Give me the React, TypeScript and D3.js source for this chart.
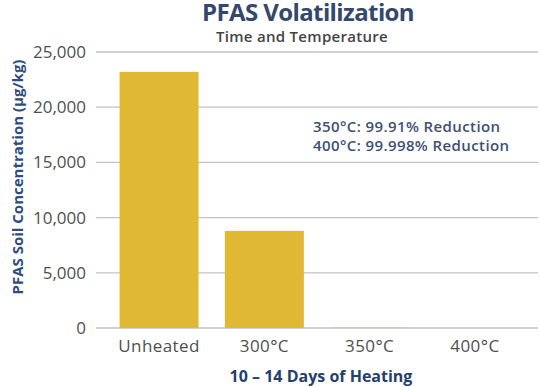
import React, { useEffect, useRef } from 'react';
import * as d3 from 'd3';

// Chart data
const categories = ['Unheated', '300°C', '350°C', '400°C'];
const concentrations = [23200, 8800, 21, 0.5];
const yTicks = [0, 5000, 10000, 15000, 20000, 25000];
const notes = ['350°C: 99.91% Reduction', '400°C: 99.998% Reduction'];

const App: React.FC = () => {
  const svgRef = useRef<SVGSVGElement | null>(null);

  useEffect(() => {
    if (!svgRef.current) return;
    const svg = d3.select(svgRef.current);
    svg.selectAll('*').remove();

    const width = 540;
    const height = 387;
    const margin = { top: 52, right: 2, bottom: 59, left: 96 };
    const font = '"Open Sans", "Noto Sans", sans-serif';
    const barColor = '#E1B834';
    const navy = '#34486E';

    svg.attr('width', width).attr('height', height);

    const x = d3.scaleBand<string>()
      .domain(categories)
      .range([margin.left, width - margin.right])
      .paddingInner(0.25)
      .paddingOuter(0.224);

    const y = d3.scaleLinear()
      .domain([0, 25000])
      .range([height - margin.bottom, margin.top]);

    // gridlines
    svg.append('g')
      .selectAll('line')
      .data(yTicks)
      .join('line')
      .attr('x1', margin.left)
      .attr('x2', width - margin.right)
      .attr('y1', d => y(d))
      .attr('y2', d => y(d))
      .attr('stroke', '#C2C2C2')
      .attr('stroke-width', 1.3);

    // y tick labels
    svg.append('g')
      .selectAll('text')
      .data(yTicks)
      .join('text')
      .attr('x', margin.left - 10)
      .attr('y', d => y(d))
      .attr('dy', '0.35em')
      .attr('text-anchor', 'end')
      .attr('font-family', font)
      .attr('font-size', 17)
      .attr('fill', '#4F4F4F')
      .text(d => d3.format(',')(d));

    // bars
    svg.append('g')
      .selectAll('rect')
      .data(categories)
      .join('rect')
      .attr('x', d => x(d) || 0)
      .attr('width', x.bandwidth())
      .attr('y', (_, i) => y(concentrations[i]))
      .attr('height', (_, i) => y(0) - y(concentrations[i]))
      .attr('fill', barColor);

    // x tick labels
    svg.append('g')
      .selectAll('text')
      .data(categories)
      .join('text')
      .attr('x', d => (x(d) || 0) + x.bandwidth() / 2)
      .attr('y', y(0) + 24)
      .attr('text-anchor', 'middle')
      .attr('font-family', font)
      .attr('font-size', 17)
      .attr('letter-spacing', 0.4)
      .attr('fill', '#4F4F4F')
      .text(d => d);

    // titles
    svg.append('text')
      .attr('x', 308)
      .attr('y', 21)
      .attr('text-anchor', 'middle')
      .attr('font-family', font)
      .attr('font-weight', 700)
      .attr('font-size', 24)
      .attr('letter-spacing', -0.6)
      .attr('fill', navy)
      .text('PFAS Volatilization');

    svg.append('text')
      .attr('x', 302)
      .attr('y', 42)
      .attr('text-anchor', 'middle')
      .attr('font-family', font)
      .attr('font-weight', 600)
      .attr('font-size', 15)
      .attr('letter-spacing', 0.3)
      .attr('fill', '#444444')
      .text('Time and Temperature');

    svg.append('text')
      .attr('x', 321)
      .attr('y', 382)
      .attr('text-anchor', 'middle')
      .attr('font-family', font)
      .attr('font-weight', 700)
      .attr('font-size', 16)
      .attr('fill', '#243F6E')
      .text('10 – 14 Days of Heating');

    svg.append('text')
      .attr('transform', 'translate(23,177) rotate(-90)')
      .attr('text-anchor', 'middle')
      .attr('font-family', font)
      .attr('font-weight', 700)
      .attr('font-size', 15)
      .attr('fill', '#2F4C80')
      .text('PFAS Soil Concentration (μg/kg)');

    // reduction notes
    svg.append('g')
      .selectAll('text')
      .data(notes)
      .join('text')
      .attr('x', 313)
      .attr('y', (_, i) => 132 + i * 19)
      .attr('font-family', font)
      .attr('font-weight', 600)
      .attr('font-size', 15)
      .attr('letter-spacing', 0.4)
      .attr('fill', '#3E5073')
      .text(d => d);
  }, []);

  return (
    <div style={{ position: 'absolute', left: 0, top: 0, width: 540, height: 387, background: '#fff' }}>
      <svg ref={svgRef} style={{ display: 'block' }}></svg>
    </div>
  );
};

export default App;
